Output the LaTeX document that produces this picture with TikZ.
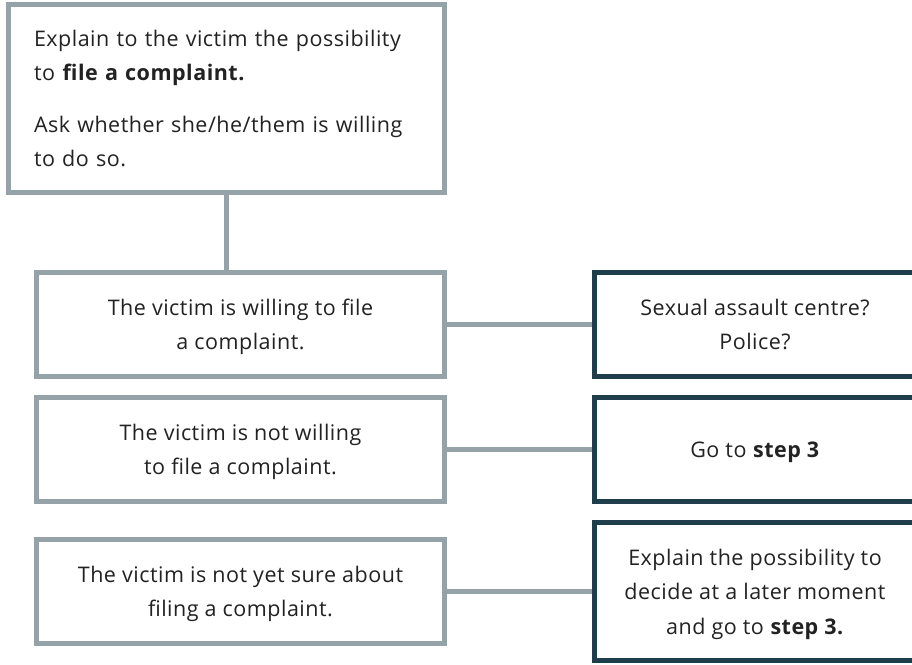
\documentclass[tikz,border=0pt]{standalone}
\usepackage{fontspec}
\setmainfont{Open Sans}[LetterSpace=2.3]
\definecolor{boxgray}{RGB}{149,162,168}
\definecolor{boxdark}{RGB}{29,62,74}
\definecolor{txtcol}{RGB}{34,34,34}
\begin{document}
\begin{tikzpicture}[x=1pt,y=-1pt,
  every node/.style={text=txtcol, font=\fontsize{21.5}{34.5}\selectfont},
  graybox/.style={draw=boxgray, line width=5pt, rectangle, fill=white,
    minimum width=408pt, minimum height=104pt, inner sep=0pt, align=center,
    text depth=-3.5pt},
  darkbox/.style={draw=boxdark, line width=5pt, rectangle, fill=white,
    minimum width=321pt, minimum height=104pt, inner sep=0pt, align=center,
    text depth=-3.5pt},
  link/.style={draw=boxgray, line width=5pt}]
\clip (0,0) rectangle (912,664);
\fill[white] (0,0) rectangle (912,664);

\node[draw=boxgray, line width=5pt, rectangle, fill=white,
  minimum width=436pt, minimum height=188pt, inner xsep=25.5pt, inner ysep=0pt,
  text width=385pt, align=left] (top) at (226.5,98.5)
  {Explain to the victim the possibility\\
   to \textbf{file a complaint.}\\[17pt]
   Ask whether she/he/them is willing\\
   to do so.};

\node[graybox] (will) at (240.5,324.5) {The victim is willing to file\\ a complaint.};
\node[graybox] (notwill) at (240.5,449.5) {The victim is not willing\\ to file a complaint.};
\node[graybox] (notsure) at (240.5,591.5) {The victim is not yet sure about\\ filing a complaint.};

\node[darkbox] (centre) at (755,324.5) {Sexual assault centre?\\ Police?};
\node[darkbox] (step) at (755,449.5) {Go to \textbf{step 3}};
\node[darkbox, minimum height=138pt] (later) at (755,591.5)
  {Explain the possibility to\\ decide at a later moment\\ and go to \textbf{step 3.}};

\draw[link] (top.south) -- (top.south |- will.north);
\draw[link] (will.east) -- (centre.west);
\draw[link] (notwill.east) -- (step.west);
\draw[link] (notsure.east) -- (later.west);
\end{tikzpicture}
\end{document}
